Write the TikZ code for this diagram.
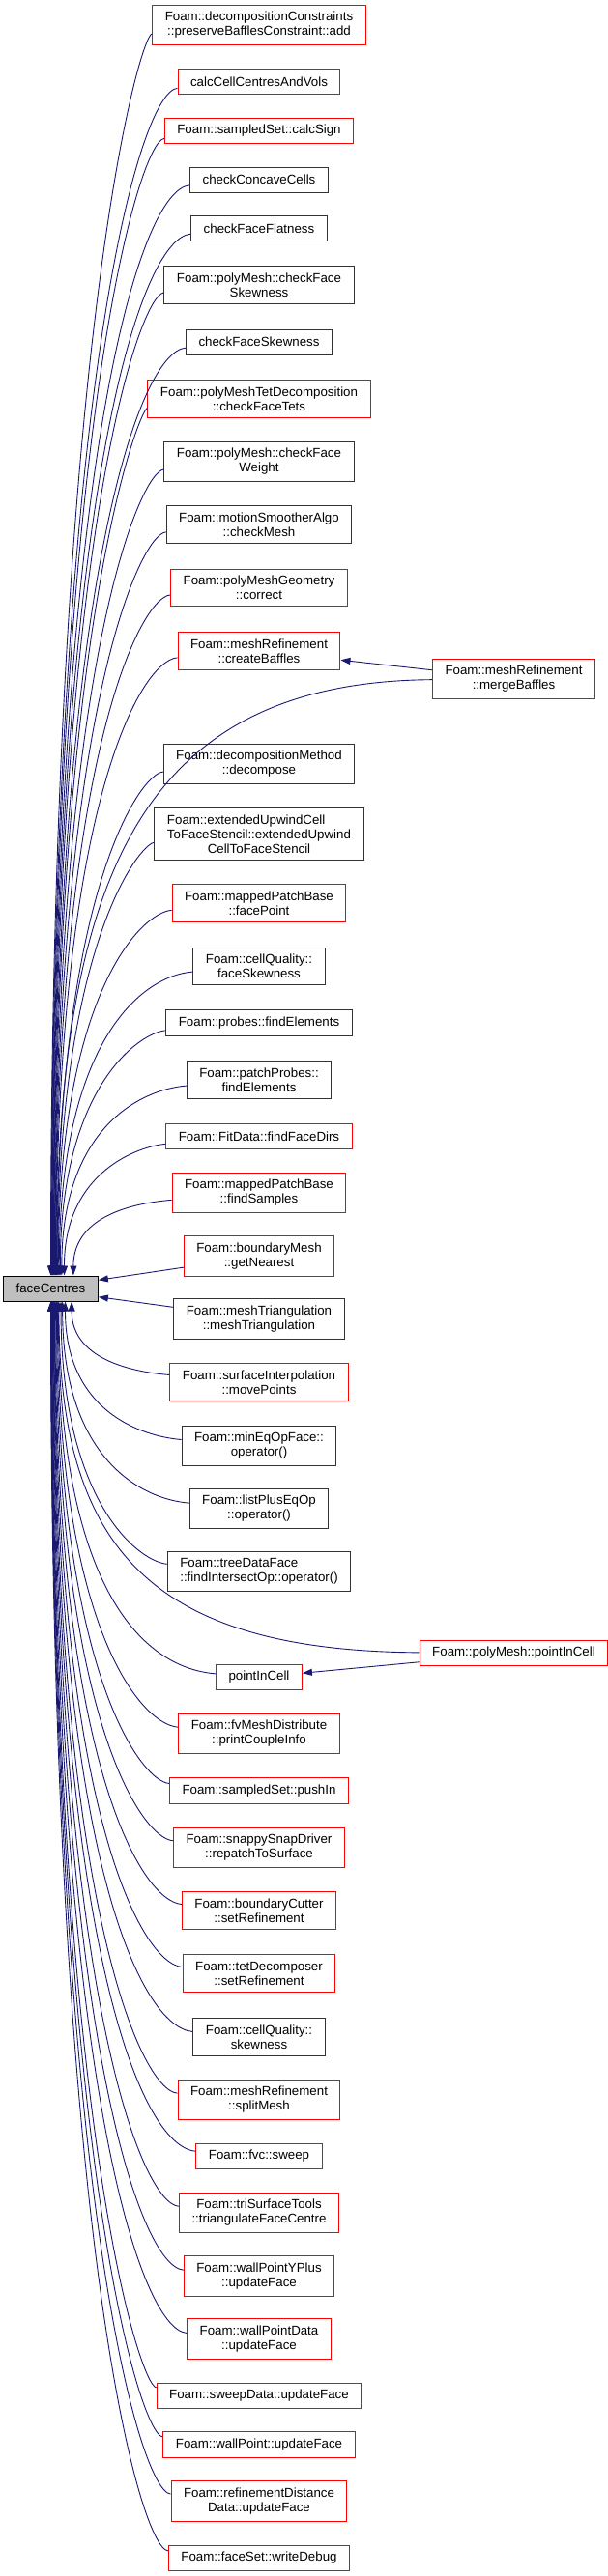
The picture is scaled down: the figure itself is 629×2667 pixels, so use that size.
\documentclass[tikz,border=0pt]{standalone}
\usepackage{fontspec}
\setmainfont{Liberation Sans}
\usetikzlibrary{arrows.meta}
\definecolor{medianoche}{HTML}{191970}
\definecolor{gris}{HTML}{BFBFBF}
\definecolor{rojo}{HTML}{FF0000}

\begin{document}
\begin{tikzpicture}[x=1pt,y=-1pt,>={Triangle[length=10pt,width=7pt]},
    caja/.style={draw=black!80,fill=white,line width=1pt,inner xsep=13pt,inner ysep=7pt,minimum height=26pt,align=center,font=\fontsize{13.3}{15}\selectfont},
    cajaroja/.style={caja,draw=rojo},
    arista/.style={<-,draw=medianoche,line width=0.9pt}]
  \useasboundingbox (0,0) rectangle (629,2667);
  % funcion llamada
  \node[caja,fill=gris,draw=black] (fc) at (52.5,1334) {faceCentres};
  % llamadores
  \node[cajaroja] (n1) at (268,26) {Foam::decompositionConstraints\\::preserveBafflesConstraint::add};
  \node[cajaroja] (n2) at (268,84.5) {calcCellCentresAndVols};
  \node[cajaroja] (n3) at (268,135.5) {Foam::sampledSet::calcSign};
  \node[caja] (n4) at (268,186) {checkConcaveCells};
  \node[caja] (n5) at (268,236.5) {checkFaceFlatness};
  \node[caja] (n6) at (268,295) {Foam::polyMesh::checkFace\\Skewness};
  \node[caja] (n7) at (268,354) {checkFaceSkewness};
  \node[cajaroja] (n8) at (268,413) {Foam::polyMeshTetDecomposition\\::checkFaceTets};
  \node[caja] (n9) at (268,478) {Foam::polyMesh::checkFace\\Weight};
  \node[caja] (n10) at (268,543) {Foam::motionSmootherAlgo\\::checkMesh};
  \node[cajaroja] (n11) at (268,608.5) {Foam::polyMeshGeometry\\::correct};
  \node[cajaroja] (n12) at (268,674) {Foam::meshRefinement\\::createBaffles};
  \node[cajaroja] (mb) at (531.5,703) {Foam::meshRefinement\\::mergeBaffles};
  \node[caja] (n13) at (268,791) {Foam::decompositionMethod\\::decompose};
  \node[caja,align=left] (n14) at (268,863.5) {Foam::extendedUpwindCell\\ToFaceStencil::extendedUpwind\\\hspace*{3.14em}CellToFaceStencil};
  \node[cajaroja] (n15) at (268,935) {Foam::mappedPatchBase\\::facePoint};
  \node[caja] (n16) at (268,1000.5) {Foam::cellQuality::\\faceSkewness};
  \node[caja] (n17) at (268,1059) {Foam::probes::findElements};
  \node[caja] (n18) at (268,1118) {Foam::patchProbes::\\findElements};
  \node[cajaroja] (n19) at (268,1176.5) {Foam::FitData::findFaceDirs};
  \node[cajaroja] (n20) at (268,1235) {Foam::mappedPatchBase\\::findSamples};
  \node[cajaroja] (n21) at (268,1300.5) {Foam::boundaryMesh\\::getNearest};
  \node[caja] (n22) at (268,1365.5) {Foam::meshTriangulation\\::meshTriangulation};
  \node[cajaroja] (n23) at (268,1431) {Foam::surfaceInterpolation\\::movePoints};
  \node[caja] (n24) at (268,1497) {Foam::minEqOpFace::\\operator()};
  \node[caja] (n25) at (268,1562) {Foam::listPlusEqOp\\::operator()};
  \node[caja,align=left] (n26) at (268,1627) {Foam::treeDataFace\\::findIntersectOp::operator()};
  \node[cajaroja] (pic) at (531.5,1711.5) {Foam::polyMesh::pointInCell};
  \node[cajaroja] (n27) at (268,1736.5) {pointInCell};
  \node[cajaroja] (n28) at (268,1795) {Foam::fvMeshDistribute\\::printCoupleInfo};
  \node[cajaroja] (n29) at (268,1854) {Foam::sampledSet::pushIn};
  \node[cajaroja] (n30) at (268,1913) {Foam::snappySnapDriver\\::repatchToSurface};
  \node[cajaroja] (n31) at (268,1978) {Foam::boundaryCutter\\::setRefinement};
  \node[cajaroja] (n32) at (268,2043) {Foam::tetDecomposer\\::setRefinement};
  \node[caja] (n33) at (268,2109) {Foam::cellQuality::\\skewness};
  \node[cajaroja] (n34) at (268,2174) {Foam::meshRefinement\\::splitMesh};
  \node[cajaroja] (n35) at (268,2232.5) {Foam::fvc::sweep};
  \node[cajaroja] (n36) at (268,2291) {Foam::triSurfaceTools\\::triangulateFaceCentre};
  \node[cajaroja] (n37) at (268,2356.5) {Foam::wallPointYPlus\\::updateFace};
  \node[cajaroja] (n38) at (268,2421.5) {Foam::wallPointData\\::updateFace};
  \node[cajaroja] (n39) at (268,2480.5) {Foam::sweepData::updateFace};
  \node[cajaroja] (n40) at (268,2531) {Foam::wallPoint::updateFace};
  \node[cajaroja] (n41) at (268,2589.5) {Foam::refinementDistance\\Data::updateFace};
  \node[cajaroja] (n42) at (268,2648.5) {Foam::faceSet::writeDebug};
  % llamadas desde arriba
  \foreach \n/\yc/\an in {1/26/90,2/84.5/88,3/135.5/86,4/186/84,5/236.5/82,6/295/80,7/354/78,8/413/76,9/478/74,10/543/72,11/608.5/70,12/674/68,13/791/64,14/863.5/62,15/935/60,16/1000.5/57,17/1059/54,18/1118/50,19/1176.5/44,20/1235/30}
    \draw[arista] (fc.\an) .. controls +(0,{-0.75*(1321-\yc)}) and (145,\yc+10) .. (n\n);
  % llamadas desde abajo
  \foreach \n/\yc/\an in {23/1431/328,24/1497/318,25/1562/312,26/1627/308,27/1736.5/300,28/1795/297,29/1854/294,30/1913/291,31/1978/288,32/2043/286,33/2109/284,34/2174/282,35/2232.5/280,36/2291/278,37/2356.5/276,38/2421.5/274,39/2480.5/273,40/2531/272,41/2589.5/271,42/2648.5/270}
    \draw[arista] (fc.\an) .. controls +(0,{0.75*(\yc-1347)}) and (145,\yc-10) .. (n\n);
  \draw[arista] (fc.10) -- (n21);
  \draw[arista] (fc.350) -- (n22);
  % segundo nivel
  \draw[arista] (n12) -- (mb);
  \draw[arista] (fc.66) .. controls +(0,-420) and (150,706) .. (mb);
  \draw[arista] (n27) -- (pic);
  \draw[arista] (fc.302) .. controls +(0,250) and (150,1709) .. (pic);
\end{tikzpicture}
\end{document}
